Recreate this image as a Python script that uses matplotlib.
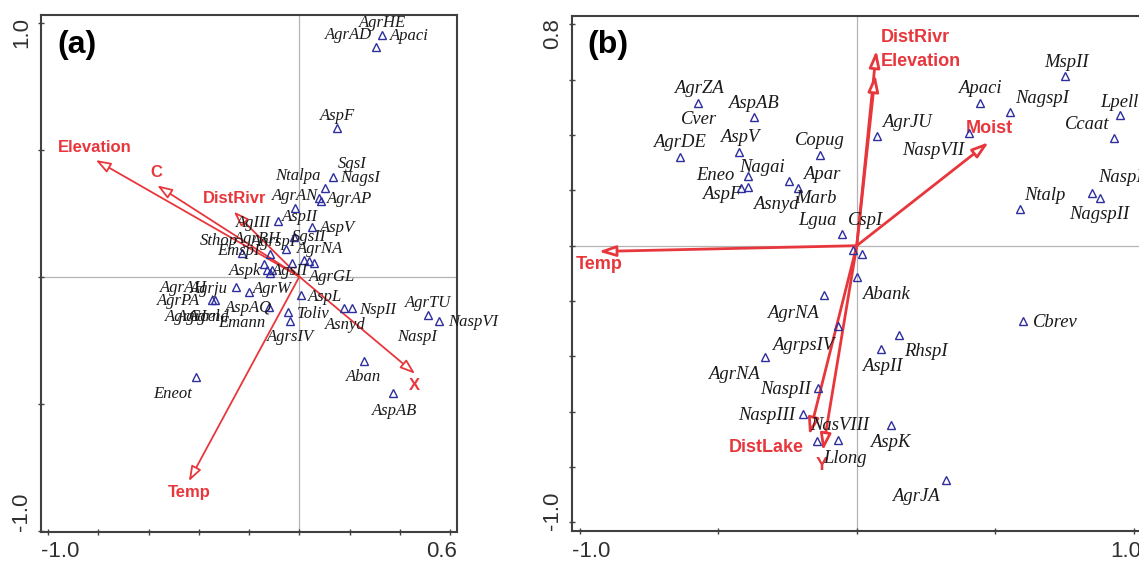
import matplotlib
matplotlib.use("Agg")
import matplotlib.pyplot as plt

# ---------------- Panel (a) data ----------------
a_pts_x = [0.330, 0.305, 0.150, 0.134, 0.103, 0.077, 0.087, -0.016, -0.085, 0.050,
           -0.023, -0.052, -0.115, -0.228, -0.029, 0.017, 0.037, 0.057, -0.142, -0.129,
           -0.109, -0.118, -0.251, -0.201, 0.008, -0.347, -0.334, -0.122, -0.046, -0.038,
           0.176, 0.209, 0.512, 0.558, 0.256, 0.375, -0.410]
a_pts_y = [0.952, 0.905, 0.587, 0.392, 0.349, 0.309, 0.299, 0.271, 0.218, 0.195,
           0.157, 0.110, 0.088, 0.095, 0.053, 0.064, 0.061, 0.053, 0.050, 0.028,
           0.028, 0.014, -0.040, -0.061, -0.071, -0.090, -0.090, -0.118, -0.140, -0.174,
           -0.125, -0.125, -0.152, -0.174, -0.332, -0.456, -0.396]

a_lab_text = ["AgrHE", "AgrAD", "Apaci", "AspF", "SgsI", "NagsI", "Ntalpa", "AgrAN",
              "AgrAP", "AspII", "AgIII", "AspV", "SgsII", "Sthop", "AgrRH", "AgrspI",
              "EmspI", "AgrNA", "Aspk", "AgsII", "AgrGL", "AgrAH", "Agrju", "AgrW",
              "AgrPA", "AspL", "AspAQ", "NspII", "AgrTU", "Toliv", "AgrGI", "Agrcel",
              "Agrnd", "Emann", "Asnyd", "NaspVI", "NaspI", "AgrsIV", "Aban", "Eneot",
              "AspAB"]
a_lab_x = [0.332, 0.194, 0.439, 0.153, 0.210, 0.243, -0.005, -0.016,
           0.200, 0.001, -0.181, 0.150, 0.037, -0.321, -0.168, -0.103,
           -0.241, 0.081, -0.217, -0.036, 0.130, -0.460, -0.359, -0.109,
           -0.480, 0.104, -0.201, 0.313, 0.514, 0.054, -0.450, -0.400,
           -0.360, -0.228, 0.183, 0.691, 0.468, -0.036, 0.256, -0.504,
           0.381]
a_lab_y = [0.997, 0.952, 0.949, 0.634, 0.442, 0.387, 0.395, 0.316,
           0.306, 0.235, 0.211, 0.192, 0.157, 0.142, 0.148, 0.138,
           0.100, 0.108, 0.021, 0.021, 0.000, -0.043, -0.047, -0.050,
           -0.097, -0.081, -0.125, -0.131, -0.103, -0.147, -0.160, -0.160,
           -0.160, -0.182, -0.189, -0.178, -0.238, -0.238, -0.396, -0.460,
           -0.527]

a_vec_names = ["Elevation", "C", "DistRivr", "X", "Temp"]
a_vec_x = [-0.811, -0.566, -0.261, 0.461, -0.440]
a_vec_y = [0.459, 0.359, 0.256, -0.382, -0.805]
a_vlab_x = [-0.815, -0.570, -0.257, 0.459, -0.440]
a_vlab_y = [0.509, 0.409, 0.306, -0.430, -0.850]

a_xticks = [-1.0, -0.8, -0.6, -0.4, -0.2, 0.0, 0.2, 0.4, 0.6]
a_yticks = [-1.0, -0.5, 0.0, 0.5, 1.0]
a_xtick_labels = ["-1.0", "0.6"]
a_ytick_labels = ["-1.0", "1.0"]

# ---------------- Panel (b) data ----------------
b_pts_x = [-0.572, -0.373, -0.640, -0.427, -0.392, -0.392, -0.420, -0.245, -0.213, -0.133,
           -0.055, -0.013, 0.019, 0.000, 0.073, 0.405, 0.444, 0.552, 0.753, 0.951,
           0.931, 0.851, 0.880, 0.588, 0.601, -0.120, -0.067, 0.151, 0.088, -0.332,
           -0.139, -0.196, 0.124, -0.143, -0.067, 0.321]
b_pts_y = [0.516, 0.465, 0.321, 0.338, 0.250, 0.213, 0.208, 0.232, 0.209, 0.329,
           0.041, -0.017, -0.031, -0.114, 0.396, 0.406, 0.516, 0.483, 0.612, 0.471,
           0.390, 0.192, 0.174, 0.133, -0.272, -0.178, -0.292, -0.323, -0.373, -0.404,
           -0.514, -0.610, -0.649, -0.707, -0.701, -0.845]

b_lab_text = ["AgrZA", "AspAB", "Cver", "AgrDE", "AspV", "Copug", "Nagai", "Eneo",
              "Apar", "AspF", "Marb", "Asnyd", "Lgua", "CspI", "AgrJU", "NaspVII",
              "Apaci", "NagspI", "MspII", "Lpell", "Ccaat", "NaspI", "Ntalp", "NagspII",
              "Abank", "Cbrev", "AgrNA", "AgrpsIV", "RhspI", "AspII", "AgrNA", "NaspII",
              "NaspIII", "NasVIII", "AspK", "Llong", "AgrJA"]
b_lab_x = [-0.572, -0.373, -0.571, -0.640, -0.423, -0.132, -0.344, -0.512,
           -0.125, -0.489, -0.147, -0.293, -0.143, 0.031, 0.181, 0.277,
           0.444, 0.668, 0.757, 0.949, 0.833, 0.951, 0.681, 0.878,
           0.107, 0.716, -0.232, -0.193, 0.251, 0.091, -0.445, -0.259,
           -0.327, -0.060, 0.121, -0.043, 0.215]
b_lab_y = [0.567, 0.513, 0.455, 0.372, 0.391, 0.379, 0.284, 0.253,
           0.257, 0.186, 0.170, 0.147, 0.090, 0.090, 0.445, 0.345,
           0.568, 0.532, 0.661, 0.519, 0.439, 0.245, 0.183, 0.112,
           -0.178, -0.279, -0.245, -0.359, -0.384, -0.436, -0.464, -0.520,
           -0.613, -0.649, -0.711, -0.768, -0.907]

b_vec_names = ["DistRivr", "Elevation", "Moist", "Temp", "DistLake", "Y"]
b_vec_x = [0.071, 0.067, 0.477, -0.933, -0.172, -0.123]
b_vec_y = [0.706, 0.619, 0.374, -0.021, -0.685, -0.742]
b_vlab_x = [0.211, 0.231, 0.480, -0.932, -0.327, -0.127]
b_vlab_y = [0.751, 0.665, 0.422, -0.068, -0.729, -0.795]

b_xticks = [-1.0, -0.5, 0.0, 0.5, 1.0]
b_yticks = [-1.0, -0.8, -0.6, -0.4, -0.2, 0.0, 0.2, 0.4, 0.6, 0.8]
b_xtick_labels = ["-1.0", "1.0"]
b_ytick_labels = ["-1.0", "0.8"]

RED = "#e8373c"
BLUE = "#2e2e9e"
FRAME = "#404040"
TICKTXT = "#303030"

W, H = 1139, 561
fig = plt.figure(figsize=(W / 100, H / 100), dpi=100)
# axes boxes (pixel edges: left, right, top, bottom)
ax_a = fig.add_axes([41 / W, (H - 531.5) / H, (457 - 41) / W, (531.5 - 15) / H])
ax_b = fig.add_axes([571.7 / W, (H - 531) / H, (1141 - 571.7) / W, (531 - 15.7) / H])


def style_axes(ax, xlim, ylim, xticks, yticks, xl, yl):
    ax.set_xlim(*xlim)
    ax.set_ylim(*ylim)
    ax.axhline(0, color="#b4b4b4", lw=0.9, zorder=0)
    ax.axvline(0, color="#b4b4b4", lw=0.9, zorder=0)
    ax.set_xticks(xticks)
    ax.set_yticks(yticks)
    ax.set_xticklabels([])
    ax.set_yticklabels([])
    ax.tick_params(direction="inout", length=4.5, width=1.0, color=FRAME)
    for s in ax.spines.values():
        s.set_color(FRAME)
        s.set_linewidth(1.5)
    kw = dict(fontsize=16, family="Liberation Sans", color=TICKTXT,
              xycoords="axes fraction", textcoords="offset points")
    ax.annotate(xl[0], xy=(0, 0), xytext=(0, -7), ha="left", va="top", **kw)
    ax.annotate(xl[1], xy=(1, 0), xytext=(0, -7), ha="right", va="top", **kw)
    ax.annotate(yl[0], xy=(0, 0), xytext=(-6.5, 0.5), ha="right", va="bottom",
                rotation=90, **kw)
    ax.annotate(yl[1], xy=(0, 1), xytext=(-6.5, -1.5), ha="right", va="top",
                rotation=90, **kw)


def draw_panel(ax, px, py, lt, lx, ly, vx, vy, vn, vlx, vly, fs_lab, fs_vec,
               lw_vec, ms, hl):
    for x, y, name, tx, ty in zip(vx, vy, vn, vlx, vly):
        ax.annotate("", xy=(x, y), xytext=(0, 0),
                    arrowprops=dict(arrowstyle=f"-|>,head_length={hl},head_width=0.32",
                                    ec=RED, fc="white", lw=lw_vec,
                                    shrinkA=0, shrinkB=0),
                    zorder=3)
        ax.text(tx, ty, name, color=RED, fontsize=fs_vec, fontweight="bold",
                family="Liberation Sans", ha="center", va="center", zorder=4)
    ax.plot(px, py, linestyle="none", marker="^", markersize=ms,
            mfc="none", mec=BLUE, mew=1.0, zorder=5)
    for t, x, y in zip(lt, lx, ly):
        ax.text(x, y, t, fontsize=fs_lab, family="Liberation Serif", style="italic",
                ha="center", va="center", color="#1a1a1a", zorder=6)


style_axes(ax_a, (-1.029, 0.628), (-1.003, 1.030), a_xticks, a_yticks,
           a_xtick_labels, a_ytick_labels)
draw_panel(ax_a, a_pts_x, a_pts_y, a_lab_text, a_lab_x, a_lab_y,
           a_vec_x, a_vec_y, a_vec_names, a_vlab_x, a_vlab_y,
           fs_lab=12, fs_vec=12, lw_vec=1.3, ms=5.5, hl=0.9)
ax_a.text(0.0858, 0.942, "(a)", transform=ax_a.transAxes, fontsize=23,
          fontweight="bold", family="Liberation Sans", ha="center", va="center")

style_axes(ax_b, (-1.030, 1.027), (-1.031, 0.831), b_xticks, b_yticks,
           b_xtick_labels, b_ytick_labels)
draw_panel(ax_b, b_pts_x, b_pts_y, b_lab_text, b_lab_x, b_lab_y,
           b_vec_x, b_vec_y, b_vec_names, b_vlab_x, b_vlab_y,
           fs_lab=13.4, fs_vec=13, lw_vec=2.0, ms=6, hl=1.0)
ax_b.text(0.063, 0.943, "(b)", transform=ax_b.transAxes, fontsize=23,
          fontweight="bold", family="Liberation Sans", ha="center", va="center")

fig.savefig("out.png", dpi=100)
